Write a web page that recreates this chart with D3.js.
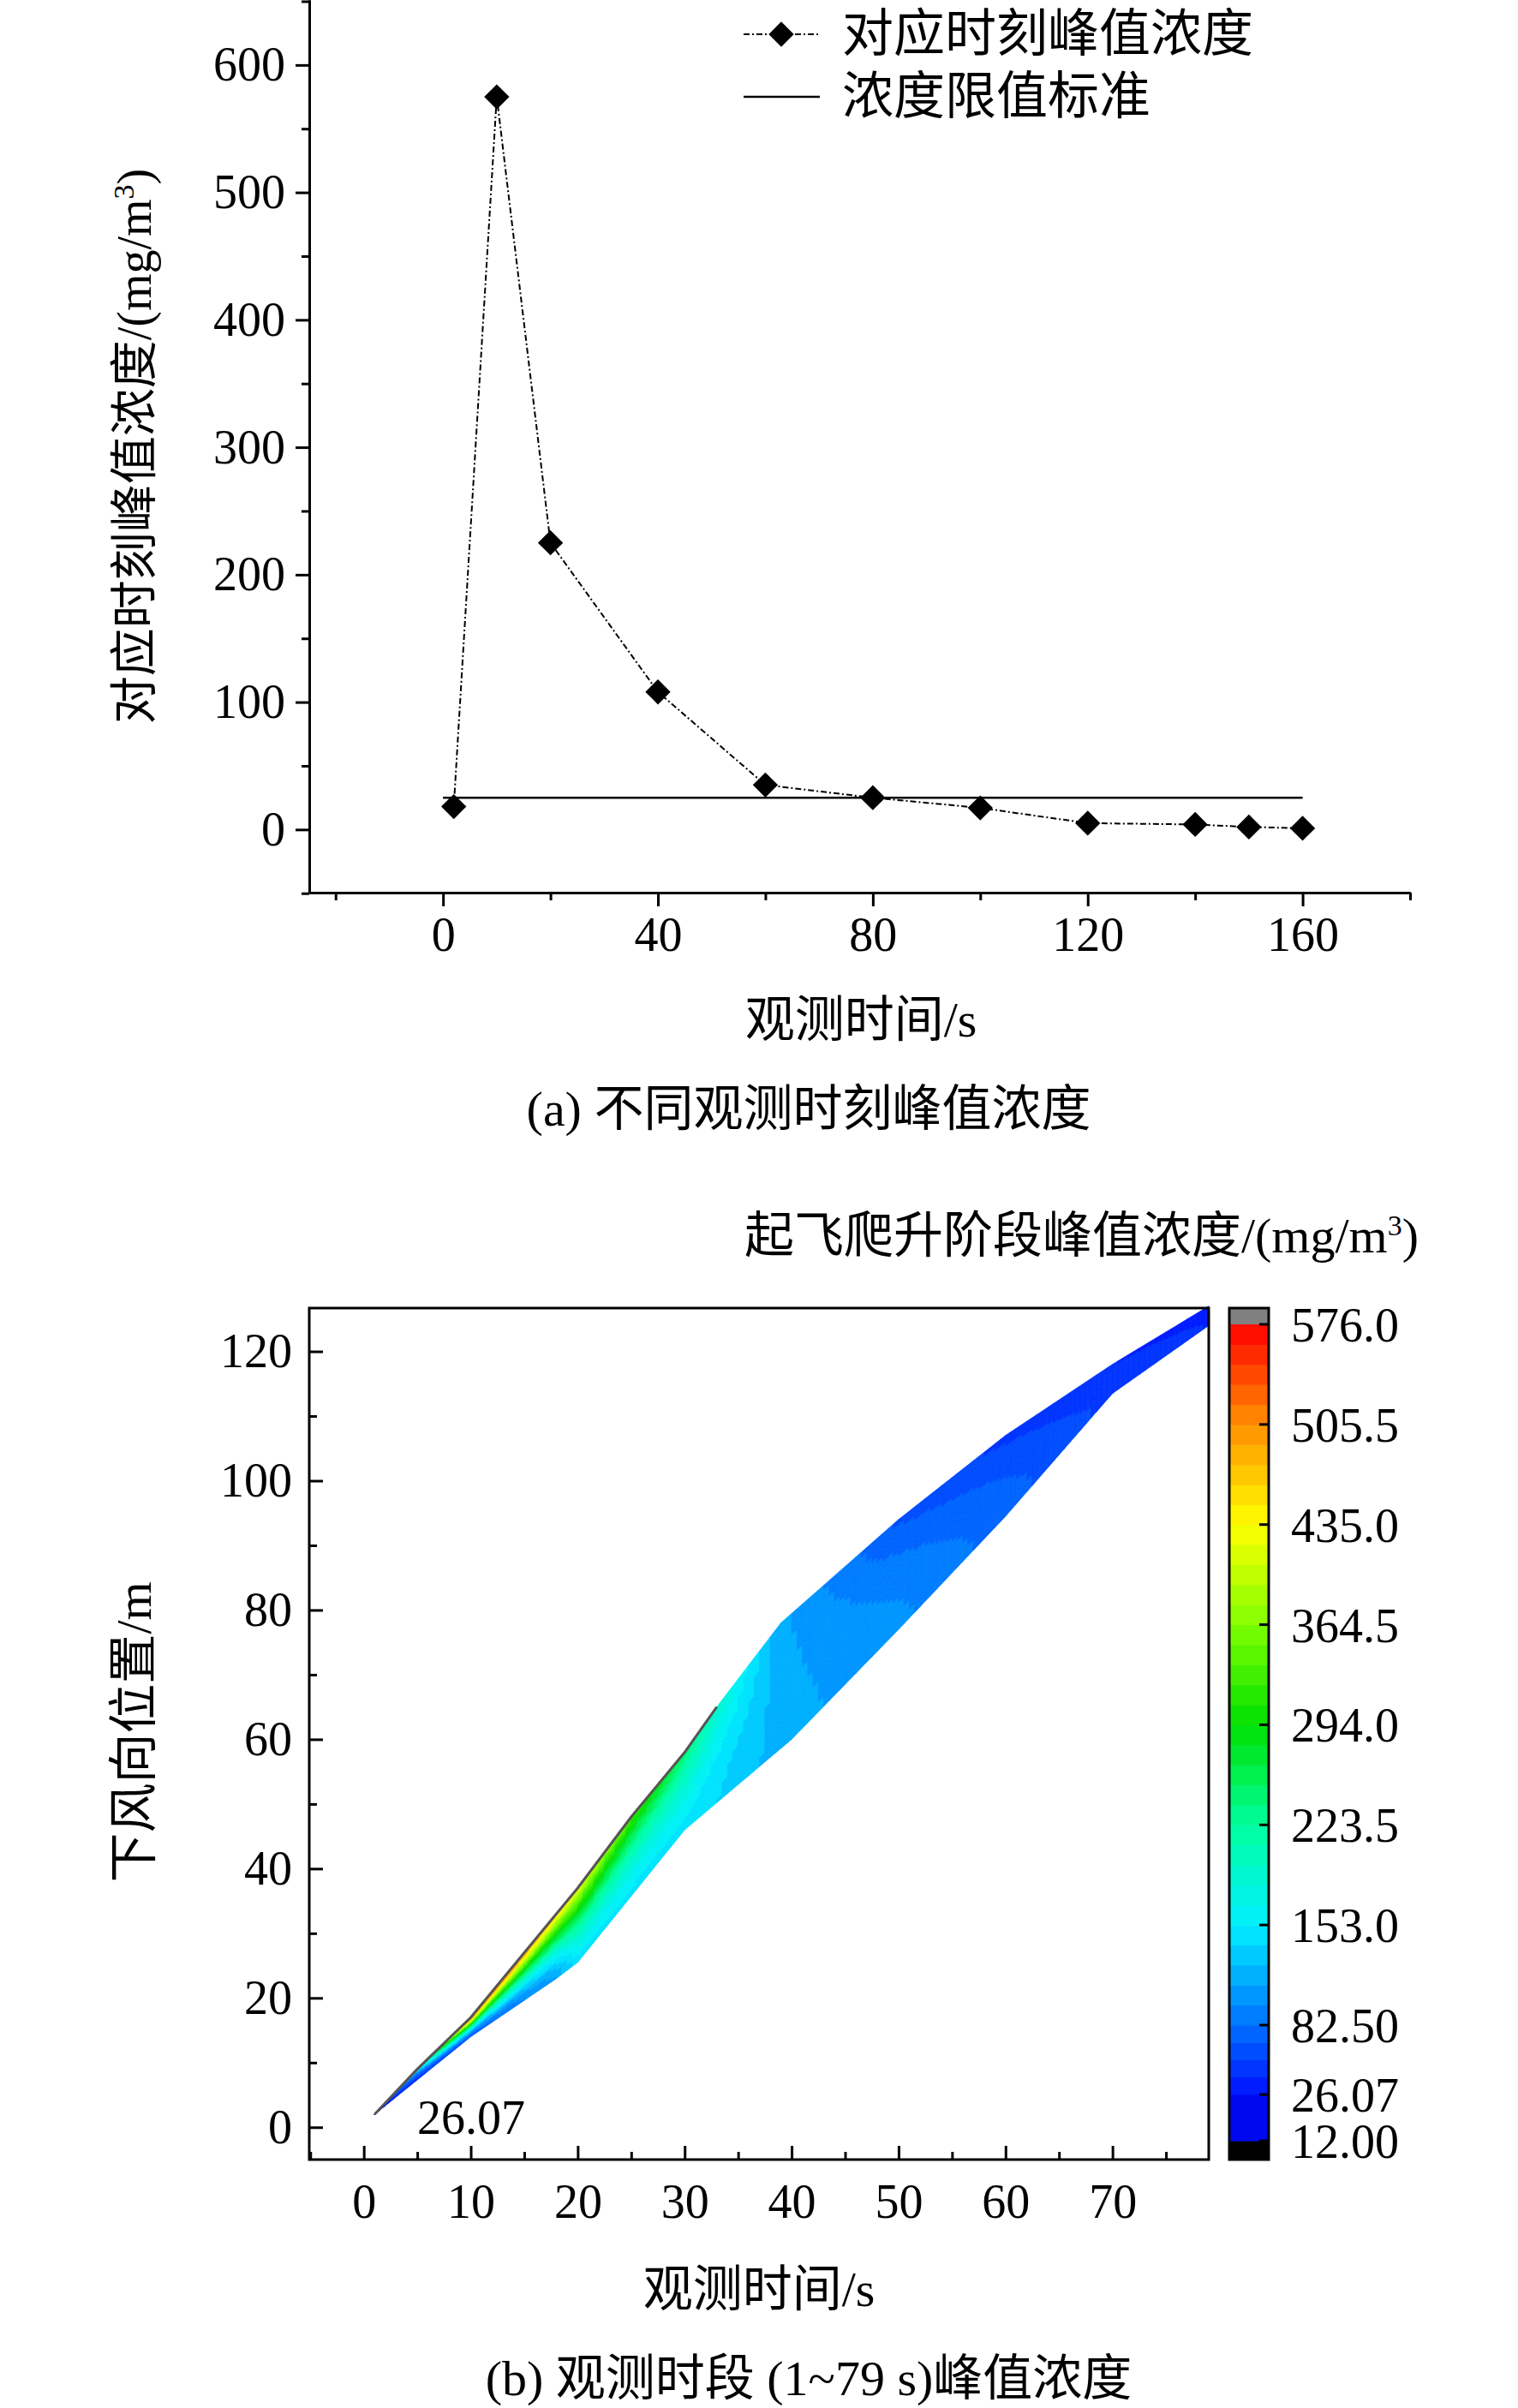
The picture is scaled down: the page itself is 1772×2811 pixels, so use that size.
<!DOCTYPE html>
<html><head><meta charset="utf-8">
<script src="https://cdn.jsdelivr.net/npm/d3@7"></script>
<style>body{margin:0;background:#fff}text{font-family:"Liberation Serif","Noto Sans CJK SC",serif;fill:#000}</style>
</head><body>
<script>
// (a) peak concentration at each observation time
const times = [2, 10, 20, 40, 60, 80, 100, 120, 140, 150, 160];
const peaks = [18, 575, 225, 108, 35, 25, 17, 5, 4, 2, 1];
const limitValue = 25;

// (b) strip edges: [t, position m, concentration]
const upperEdge = [[1,2,30],[5,9,150],[10,17,576],[15,27,520],[20,37,430],[25,48,330],[30,58,250],[33,65,190],[39,78,115],[50,94,65],[60,107,50],[70,118,40],[79,127,35]];
const lowerEdge = [[1,2,30],[10,14,70],[18,23,110],[20,25.5,150],[30,46,150],[40,60,115],[50,77,100],[60,94.5,75],[70,113.5,50],[79,124,40]];
const cbTicks = [576.0, 505.5, 435.0, 364.5, 294.0, 223.5, 153.0, 82.50, 26.07, 12.00];
const cbLabels = ["576.0","505.5","435.0","364.5","294.0","223.5","153.0","82.50","26.07","12.00"];
const cmapValues = [12, 26.07, 82.5, 153, 223.5, 294, 364.5, 435, 505.5, 576];
const cmapColors = ["#0000e0","#0010ff","#0070ff","#00f0ff","#00ffa0","#00e000","#80ff00","#ffff00","#ff9000","#ff0000"];

const svg = d3.select("body").append("svg").attr("width", 1772).attr("height", 2811);
const diamond = d3.symbol().type(d3.symbolSquare).size(430);
const diamondT = (x, y) => `translate(${x},${y}) rotate(45)`;

// ---------- chart (a) ----------
const xa = d3.scaleLinear().domain([-24.9, 180]).range([361, 1646]);
const ya = d3.scaleLinear().domain([-49.5, 651]).range([1042, 0]);
const ga = svg.append("g");
ga.append("g").attr("transform", "translate(0,1042)")
  .call(d3.axisBottom(xa).tickValues([0,40,80,120,160]).tickSize(16).tickSizeOuter(0).tickPadding(12))
  .call(g => g.selectAll("text").attr("font-size", 56));
ga.append("g").attr("transform", "translate(0,1042)")
  .call(d3.axisBottom(xa).tickValues([-20,20,60,100,140,180]).tickSize(9).tickFormat("").tickSizeOuter(0));
ga.append("g").attr("transform", "translate(361,0)")
  .call(d3.axisLeft(ya).tickValues([0,100,200,300,400,500,600]).tickSize(16).tickSizeOuter(0).tickPadding(12))
  .call(g => g.selectAll("text").attr("font-size", 56));
ga.append("g").attr("transform", "translate(361,0)")
  .call(d3.axisLeft(ya).tickValues([-50,50,150,250,350,450,550,650]).tickSize(9).tickFormat("").tickSizeOuter(0));
ga.selectAll(".domain, .tick line").attr("stroke", "#000").attr("stroke-width", 3);

ga.append("line").attr("x1", xa(0)).attr("x2", xa(160)).attr("y1", ya(limitValue)).attr("y2", ya(limitValue))
  .attr("stroke", "#000").attr("stroke-width", 2.5);
const pts = times.map((t, i) => [t, peaks[i]]);
ga.append("path").attr("d", d3.line().x(d => xa(d[0])).y(d => ya(d[1]))(pts))
  .attr("fill", "none").attr("stroke", "#000").attr("stroke-width", 2).attr("stroke-dasharray", "7,3,2,3");
ga.selectAll(".pt").data(pts).join("path").attr("d", diamond)
  .attr("transform", d => diamondT(xa(d[0]), ya(d[1])));

// legend
ga.append("line").attr("x1", 868).attr("x2", 957).attr("y1", 40).attr("y2", 40)
  .attr("stroke", "#000").attr("stroke-width", 2).attr("stroke-dasharray", "7,3,2,3");
ga.append("path").attr("d", diamond).attr("transform", diamondT(912, 40));
ga.append("text").attr("x", 983).attr("y", 60).attr("font-size", 60).text("对应时刻峰值浓度");
ga.append("line").attr("x1", 868).attr("x2", 957).attr("y1", 113).attr("y2", 113).attr("stroke", "#000").attr("stroke-width", 2.5);
ga.append("text").attr("x", 983).attr("y", 133).attr("font-size", 60).text("浓度限值标准");

ga.append("text").attr("transform", "translate(176,521) rotate(-90)").attr("text-anchor", "middle").attr("font-size", 56)
  .html('对应时刻峰值浓度/(mg/m<tspan dy="-20" font-size="34">3</tspan><tspan dy="20">)</tspan>');
ga.append("text").attr("x", 1005).attr("y", 1210).attr("text-anchor", "middle").attr("font-size", 58).text("观测时间/s");
ga.append("text").attr("x", 944).attr("y", 1314).attr("text-anchor", "middle").attr("font-size", 58).text("(a) 不同观测时刻峰值浓度");

// ---------- chart (b) ----------
const xb = d3.scaleLinear().domain([-5.1, 79]).range([361, 1411]);
const yb = d3.scaleLinear().domain([-5, 126.7]).range([2521, 1527]);
const color = d3.scaleLinear().domain(cmapValues).range(cmapColors).clamp(true);
const nLev = 40, step = (576 - 12) / nLev;
const qcol = v => color(12 + (Math.floor((v - 12) / step) + 0.5) * step);

function edgeAt(edge, t) {
  for (let i = 0; i < edge.length - 1; i++) {
    const a = edge[i], b = edge[i + 1];
    if (t >= a[0] && t <= b[0]) { const f = (t - a[0]) / (b[0] - a[0]); return [a[1] + f * (b[1] - a[1]), a[2] + f * (b[2] - a[2])]; }
  }
  return edge[edge.length - 1].slice(1);
}
const gb = svg.append("g");
const cells = [];
const dt = 0.5, nf = 24;
for (let t = 1; t < 79; t += dt) {
  const t2 = Math.min(79, t + dt);
  const u1 = edgeAt(upperEdge, t), u2 = edgeAt(upperEdge, t2), l1 = edgeAt(lowerEdge, t), l2 = edgeAt(lowerEdge, t2);
  for (let k = 0; k < nf; k++) {
    const f1 = k / nf, f2 = (k + 1) / nf, fm = (k + 0.5) / nf;
    const p = (l, u, f) => l[0] + (u[0] - l[0]) * f;
    const w = Math.pow(fm, 1.8);
    const v = (l1[1] + (u1[1] - l1[1]) * w + l2[1] + (u2[1] - l2[1]) * w) / 2;
    cells.push({ poly: [[t, p(l1,u1,f1)],[t2, p(l2,u2,f1)],[t2, p(l2,u2,f2)],[t, p(l1,u1,f2)]], v });
  }
}
gb.selectAll(".cell").data(cells).join("path")
  .attr("d", d => "M" + d.poly.map(q => [xb(q[0]), yb(q[1])].join(",")).join("L") + "Z")
  .attr("fill", d => qcol(d.v)).attr("stroke", d => qcol(d.v)).attr("stroke-width", 0.8);
gb.append("path").attr("d", d3.line().x(d => xb(d[0])).y(d => yb(d[1]))(upperEdge.slice(0, 8)))
  .attr("fill", "none").attr("stroke", "#555").attr("stroke-width", 3);
gb.append("text").attr("x", xb(5)).attr("y", yb(-1)).attr("font-size", 56).text("26.07");

gb.append("rect").attr("x", 361).attr("y", 1527).attr("width", 1050).attr("height", 994).attr("fill", "none").attr("stroke", "#000").attr("stroke-width", 3);
gb.append("g").attr("transform", "translate(0,2521)")
  .call(d3.axisBottom(xb).tickValues([0,10,20,30,40,50,60,70]).tickSize(-16).tickSizeOuter(0).tickPadding(28))
  .call(g => g.selectAll("text").attr("font-size", 56));
gb.append("g").attr("transform", "translate(0,2521)")
  .call(d3.axisBottom(xb).tickValues(d3.range(-5, 79, 10)).tickSize(-9).tickFormat("").tickSizeOuter(0));
gb.append("g").attr("transform", "translate(361,0)")
  .call(d3.axisLeft(yb).tickValues([0,20,40,60,80,100,120]).tickSize(-16).tickSizeOuter(0).tickPadding(20))
  .call(g => g.selectAll("text").attr("font-size", 56));
gb.append("g").attr("transform", "translate(361,0)")
  .call(d3.axisLeft(yb).tickValues(d3.range(-10, 126, 20).filter(v => v > -5)).tickSize(-9).tickFormat("").tickSizeOuter(0));
gb.selectAll(".domain").remove();
gb.selectAll(".tick line").attr("stroke", "#000").attr("stroke-width", 3);

// colorbar
const cy = d3.scaleLinear().domain([12, 26.07, 82.5, 576]).range([2499, 2445, 2364, 1546]);
const cb = gb.append("g");
cb.append("rect").attr("x", 1435).attr("y", 2499).attr("width", 46).attr("height", 22).attr("fill", "#000");
cb.append("rect").attr("x", 1435).attr("y", 1527).attr("width", 46).attr("height", 19).attr("fill", "#808080");
const lev = d3.range(nLev).map(i => 12 + i * step);
cb.selectAll(".band").data(lev).join("rect").attr("x", 1435).attr("width", 46)
  .attr("y", d => cy(d + step)).attr("height", d => cy(d) - cy(d + step) + 0.6).attr("fill", d => color(d + step / 2));
cb.append("rect").attr("x", 1435).attr("y", 1527).attr("width", 46).attr("height", 994).attr("fill", "none").attr("stroke", "#000").attr("stroke-width", 3);
cb.selectAll(".cbt").data(cbTicks).join("line").attr("x1", 1470).attr("x2", 1481)
  .attr("y1", d => cy(d)).attr("y2", d => cy(d)).attr("stroke", "#000").attr("stroke-width", 3);
cb.selectAll(".cbl").data(cbTicks).join("text").attr("x", 1507).attr("y", d => cy(d) + 20)
  .attr("font-size", 56).text((d, i) => cbLabels[i]);
gb.append("text").attr("x", 1656).attr("y", 1462).attr("text-anchor", "end").attr("font-size", 58)
  .html('起飞爬升阶段峰值浓度/(mg/m<tspan dy="-20" font-size="34">3</tspan><tspan dy="20">)</tspan>');
gb.append("text").attr("transform", "translate(176,2022) rotate(-90)").attr("text-anchor", "middle").attr("font-size", 58).text("下风向位置/m");
gb.append("text").attr("x", 886).attr("y", 2692).attr("text-anchor", "middle").attr("font-size", 58).text("观测时间/s");
gb.append("text").attr("x", 944).attr("y", 2796).attr("text-anchor", "middle").attr("font-size", 58).text("(b) 观测时段 (1~79 s)峰值浓度");
</script>
</body></html>
